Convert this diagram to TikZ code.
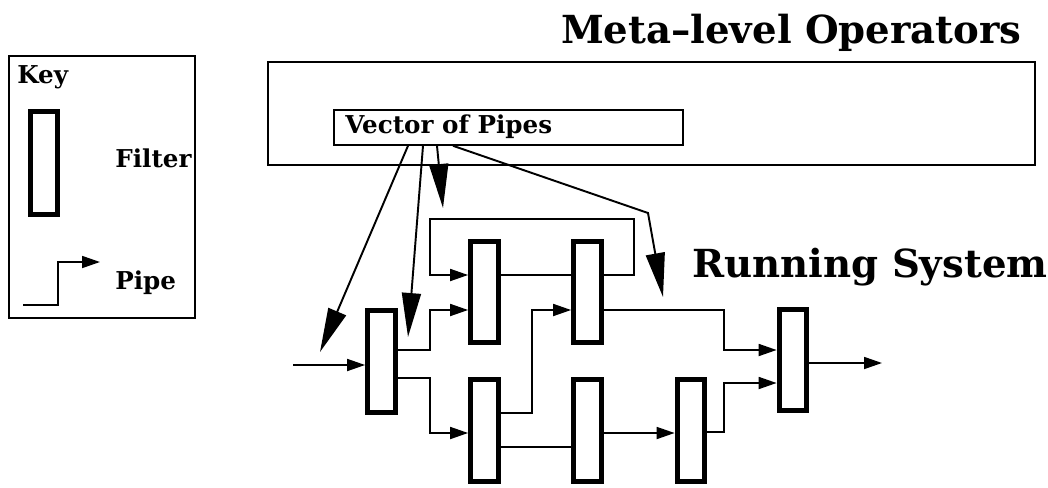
\documentclass[tikz,border=0pt]{standalone}
\usepackage{fontspec}
\setmainfont{DejaVu Serif}
\usetikzlibrary{arrows.meta}
\tikzset{
  pp/.style={-{Triangle[length=3.6mm,width=2.4mm]},line width=1pt},
  pl/.style={line width=1pt},
  vp/.style={-{Triangle[length=8.8mm,width=3.8mm]},line width=1.1pt},
  flt/.style={rectangle,draw,line width=3pt,minimum width=5.5mm,minimum height=20.3mm,inner sep=0pt},
  bx/.style={rectangle,draw,line width=0.9pt,inner sep=0pt},
  lbl/.style={font=\bfseries\fontsize{14}{16}\selectfont,inner sep=0pt},
  big/.style={font=\bfseries\fontsize{22}{26}\selectfont,inner sep=0pt}
}
\begin{document}
\begin{tikzpicture}[x=0.02cm,y=-0.02cm]
\useasboundingbox (0,0) rectangle (1048,487);
% key
\node[bx,minimum width=3.72cm,minimum height=5.24cm] (key) at (102,187) {};
\node[lbl,anchor=base west] (keyt) at (17,83) {Key};
\node[flt,minimum height=20.6mm] (kf) at (44,163) {};
\node[lbl,anchor=base west] (kft) at (115,167) {Filter};
\coordinate (ka) at (23,305); \coordinate (kb) at (100,262);
\draw[pp] (ka) -| (58,262) -- (kb);
\node[lbl,anchor=base west] (kpt) at (115,289) {Pipe};
% meta level
\node[bx,minimum width=15.34cm,minimum height=2.06cm] (meta) at (651.5,113.5) {};
\node[big,anchor=base east] (metat) at (1022,43) {Meta--level Operators};
\node[bx,minimum width=6.98cm,minimum height=0.7cm] (vec) at (508.5,127.5) {};
\node[lbl,anchor=base west] (vect) at (345,133) {Vector of Pipes};
\node[big,anchor=base west] (runt) at (692,277) {Running System};
% filters
\node[flt] (F1) at (381.5,361.5) {};
\node[flt] (F2) at (484.5,292) {};
\node[flt] (F3) at (587.5,292) {};
\node[flt] (F4) at (484.5,430.5) {};
\node[flt] (F5) at (587.5,430.5) {};
\node[flt] (F6) at (691,430.5) {};
\node[flt] (F7) at (793,360) {};
\coordinate (in) at (293,365); \coordinate (out) at (882,363);
% pipes
\draw[pp] (in) -- (F1.west |- in);
\draw[pp] (F1.east |- 0,350) -| (430,310) -- (F2.west |- 0,310);
\draw[pp] (F1.east |- 0,378) -| (430,433) -- (F4.west |- 0,433);
\draw[pp] (F3.east |- 0,275) -| (634,219) -| (430,275) -- (F2.west |- 0,275);
\draw[pl] (F2.east |- 0,275) -- (F3.west |- 0,275);
\draw[pp] (F4.east |- 0,413) -| (532,310) -- (F3.west |- 0,310);
\draw[pl] (F4.east |- 0,447) -- (F5.west |- 0,447);
\draw[pp] (F5.east |- 0,433) -- (F6.west |- 0,433);
\draw[pp] (F3.east |- 0,310) -| (724,350) -- (F7.west |- 0,350);
\draw[pp] (F6.east |- 0,432) -| (724,383) -- (F7.west |- 0,383);
\draw[pp] (F7.east |- out) -- (out);
% vector of pipes
\coordinate (t1) at (320,352); \coordinate (t2) at (408,337);
\coordinate (t3) at (443,208); \coordinate (t4) at (663,297);
\draw[vp] (vec.south -| 408,0) -- (t1);
\draw[vp] (vec.south -| 423,0) -- (t2);
\draw[vp] (vec.south -| 437,0) -- (t3);
\draw[vp] (vec.south -| 453,0) -- (648,213) -- (t4);
\end{tikzpicture}
\end{document}
